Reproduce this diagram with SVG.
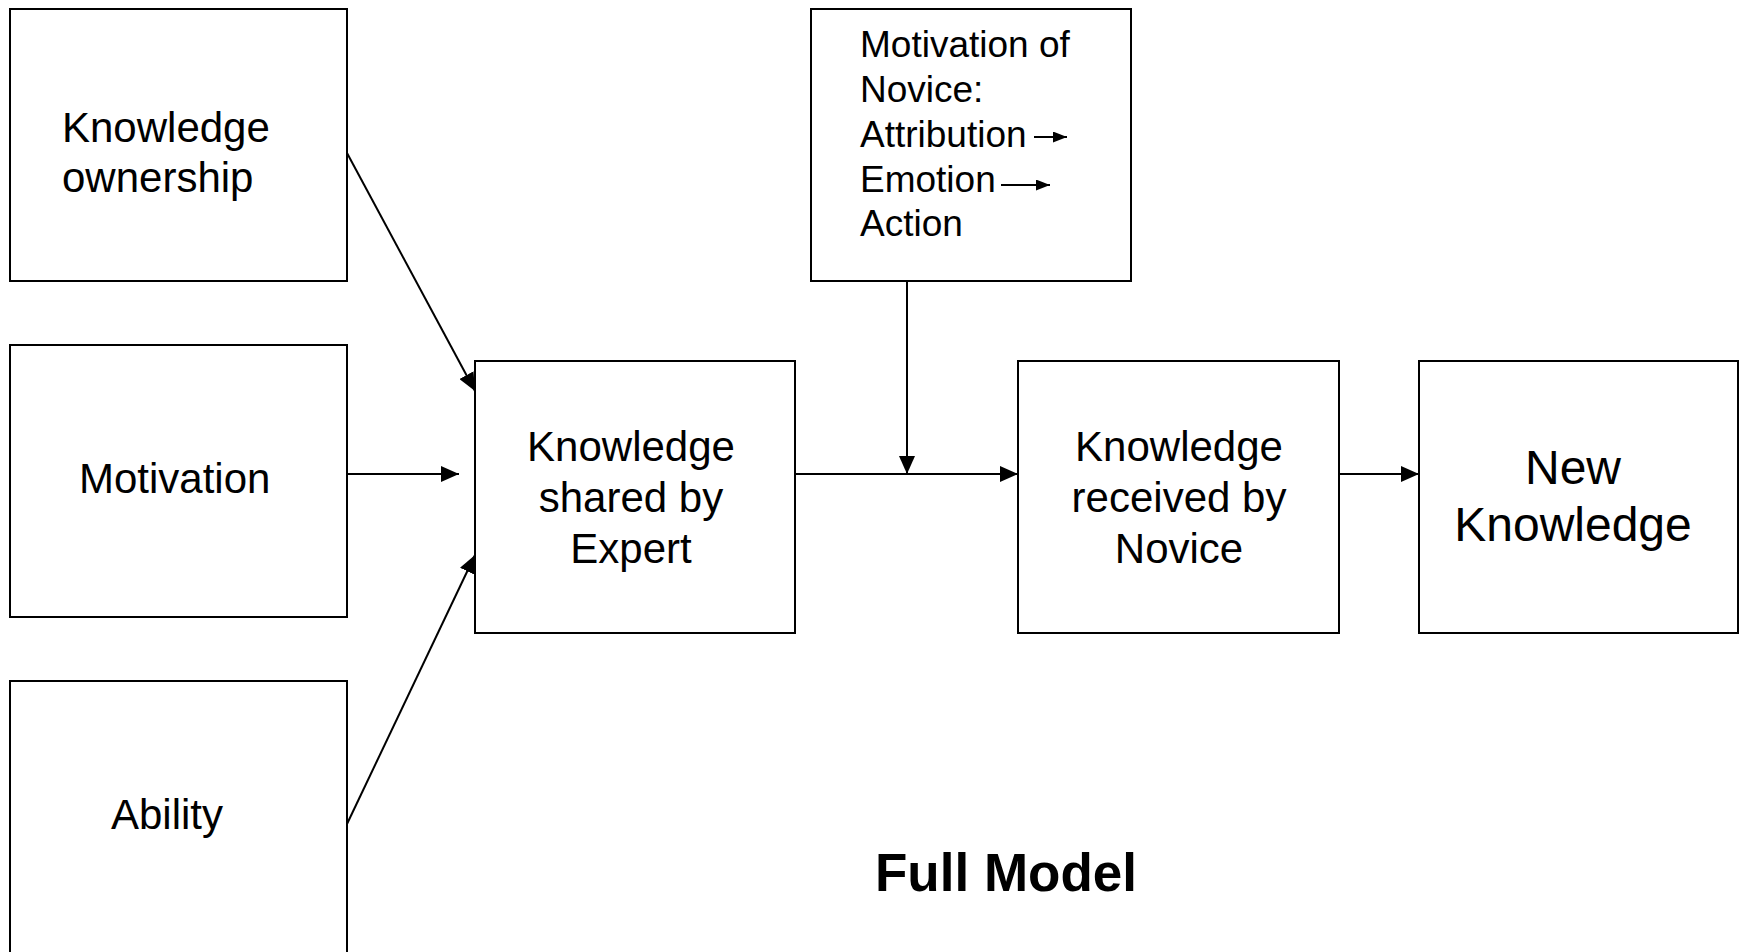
<svg xmlns="http://www.w3.org/2000/svg" width="1739" height="952" viewBox="0 0 1739 952">
<style>
.box{fill:#fff;stroke:#000;stroke-width:2}
.t{font-family:"Liberation Sans",Arial,sans-serif;font-size:42px;fill:#000}
.m{font-size:37px}
.c{text-anchor:middle}
.big{font-size:48px}
.conn{stroke:#000;stroke-width:2;fill:none}
</style>
<defs>
<marker id="ah" markerWidth="18" markerHeight="16" refX="18" refY="8" orient="auto" markerUnits="userSpaceOnUse">
<path d="M0,0 L18,8 L0,16 Z" fill="#000"/>
</marker>
<marker id="sh" markerWidth="14" markerHeight="11" refX="14" refY="5.5" orient="auto" markerUnits="userSpaceOnUse">
<path d="M0,0 L14,5.5 L0,11 Z" fill="#000"/>
</marker>
</defs>
<rect width="1739" height="952" fill="#fff"/>
<g id="connectors">
<line class="conn" x1="347" y1="153" x2="475" y2="391" marker-end="url(#ah)"/>
<line class="conn" x1="347" y1="474" x2="459" y2="474" marker-end="url(#ah)"/>
<line class="conn" x1="347" y1="824" x2="475" y2="555" marker-end="url(#ah)"/>
<line class="conn" x1="795" y1="474" x2="1018" y2="474" marker-end="url(#ah)"/>
<line class="conn" x1="907" y1="281" x2="907" y2="474" marker-end="url(#ah)"/>
<line class="conn" x1="1339" y1="474" x2="1419" y2="474" marker-end="url(#ah)"/>
</g>
<g id="node-knowledge-ownership">
<rect class="box" x="10" y="9" width="337" height="272"/>
<text class="t" x="62" y="142">Knowledge</text>
<text class="t" x="62" y="192">ownership</text>
</g>
<g id="node-motivation">
<rect class="box" x="10" y="345" width="337" height="272"/>
<text class="t" x="79" y="493">Motivation</text>
</g>
<g id="node-ability">
<rect class="box" x="10" y="681" width="337" height="285"/>
<text class="t" x="111" y="829">Ability</text>
</g>
<g id="node-shared">
<rect class="box" x="475" y="361" width="320" height="272"/>
<text class="t c" x="631" y="461">Knowledge</text>
<text class="t c" x="631" y="512">shared by</text>
<text class="t c" x="631" y="563">Expert</text>
</g>
<g id="node-motivation-novice">
<rect class="box" x="811" y="9" width="320" height="272"/>
<text class="t m" x="860" y="57">Motivation of</text>
<text class="t m" x="860" y="102">Novice:</text>
<text class="t m" x="860" y="147">Attribution</text>
<text class="t m" x="860" y="192">Emotion</text>
<text class="t m" x="860" y="236">Action</text>
<line class="conn" x1="1034" y1="137" x2="1067" y2="137" marker-end="url(#sh)"/>
<line class="conn" x1="1001" y1="185" x2="1050" y2="185" marker-end="url(#sh)"/>
</g>
<g id="node-received">
<rect class="box" x="1018" y="361" width="321" height="272"/>
<text class="t c" x="1179" y="461">Knowledge</text>
<text class="t c" x="1179" y="512">received by</text>
<text class="t c" x="1179" y="563">Novice</text>
</g>
<g id="node-new">
<rect class="box" x="1419" y="361" width="319" height="272"/>
<text class="t c big" x="1573" y="484">New</text>
<text class="t c big" x="1573" y="541">Knowledge</text>
</g>
<g id="title">
<text class="t c" x="1006" y="891" style="font-weight:bold;font-size:53px">Full Model</text>
</g>
</svg>
